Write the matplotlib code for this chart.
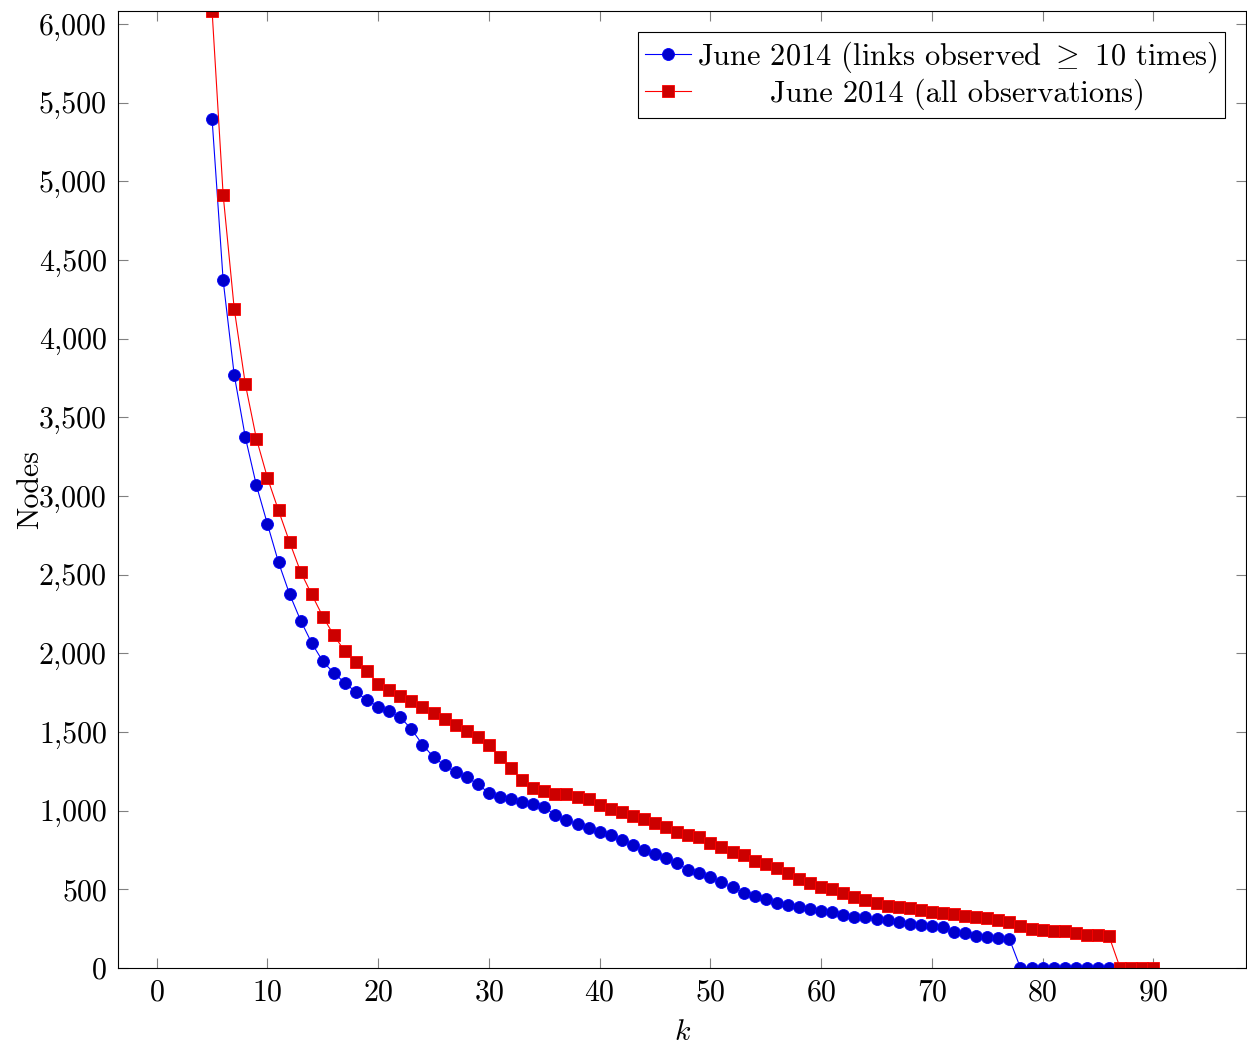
import numpy as np
import matplotlib
matplotlib.use("Agg")
import matplotlib.pyplot as plt
from matplotlib.ticker import FuncFormatter, MultipleLocator

# datos (k desde 5)
k_blue = np.arange(5, 87)
nodes_blue = [5395, 4370, 3769, 3374, 3068, 2821, 2578, 2376, 2208, 2065,
              1949, 1874, 1812, 1752, 1703, 1660, 1634, 1593, 1518, 1420,
              1340, 1288, 1245, 1212, 1169, 1111, 1088, 1071, 1055, 1040,
              1024, 970, 941, 915, 889, 862, 842, 814, 782, 752,
              725, 700, 666, 622, 603, 580, 545, 512, 479, 458,
              439, 413, 400, 388, 375, 362, 356, 337, 324, 322,
              311, 305, 292, 280, 273, 267, 261, 229, 222, 203,
              197, 189, 184, 0, 0, 0, 0, 0, 0, 0,
              0, 0]

k_red = np.arange(5, 91)
nodes_red = [6083, 4913, 4189, 3712, 3365, 3115, 2908, 2707, 2517, 2374,
             2234, 2114, 2012, 1942, 1885, 1808, 1764, 1730, 1694, 1660,
             1622, 1585, 1547, 1506, 1469, 1415, 1340, 1268, 1192, 1144,
             1123, 1108, 1103, 1088, 1075, 1036, 1013, 989, 964, 946,
             920, 895, 864, 845, 830, 794, 771, 739, 718, 682,
             661, 636, 606, 568, 542, 517, 500, 475, 453, 432,
             411, 396, 390, 379, 369, 354, 348, 341, 333, 326,
             316, 307, 294, 265, 250, 240, 237, 233, 220, 212,
             208, 201, 0, 0, 0, 0]

label_blue = r"June 2014 (links observed ${\geq}$ 10 times)"
label_red = "June 2014 (all observations)"

plt.rcParams["font.family"] = "serif"
plt.rcParams["font.serif"] = ["cmr10"]
plt.rcParams["mathtext.fontset"] = "cm"
plt.rcParams["axes.formatter.use_mathtext"] = True
fs = 21.5

fig = plt.figure(figsize=(12.47, 10.47), dpi=100)
ax = fig.add_axes([0.0946, 0.0755, 0.9049, 0.914])

ax.plot(k_blue, nodes_blue, color="#0000ff", lw=0.8, marker="o", ms=8.6,
        mfc="#0000cc", mec="#0000ff", mew=0.6, label=label_blue)
ax.plot(k_red, nodes_red, color="#ff0000", lw=0.8, marker="s", ms=8.2,
        mfc="#cc0000", mec="#ff0000", mew=0.6, label=label_red)

ax.set_xlim(-3.5, 98.4)
ax.set_ylim(0, nodes_red[0])
ax.xaxis.set_major_locator(MultipleLocator(10))
ax.yaxis.set_major_locator(MultipleLocator(500))
ax.set_xticks(np.arange(0, 91, 10))
ax.yaxis.set_major_formatter(FuncFormatter(lambda v, p: f"{int(v):,}"))
ax.tick_params(direction="in", top=True, right=True, length=7, width=0.8,
               color="#808080", labelsize=fs, pad=8)
for s in ax.spines.values():
    s.set_linewidth(0.8)

ax.set_xlabel("$k$", fontsize=fs, labelpad=9)
ax.set_ylabel("Nodes", fontsize=fs, labelpad=-4)

leg = ax.legend(loc="upper right", fontsize=21.9, fancybox=False, edgecolor="black",
                framealpha=1, borderaxespad=0.7, handlelength=1.5,
                handletextpad=0.2, labelspacing=0.1, borderpad=0.25)
leg.get_frame().set_linewidth(0.8)

# centrar la segunda etiqueta como en pgfplots
fig.canvas.draw()
r = fig.canvas.get_renderer()
t1, t2 = leg.get_texts()
dx = (t1.get_window_extent(r).width - t2.get_window_extent(r).width) / 2
t2.set_position((dx, 0))

fig.savefig("out.png", dpi=100)
